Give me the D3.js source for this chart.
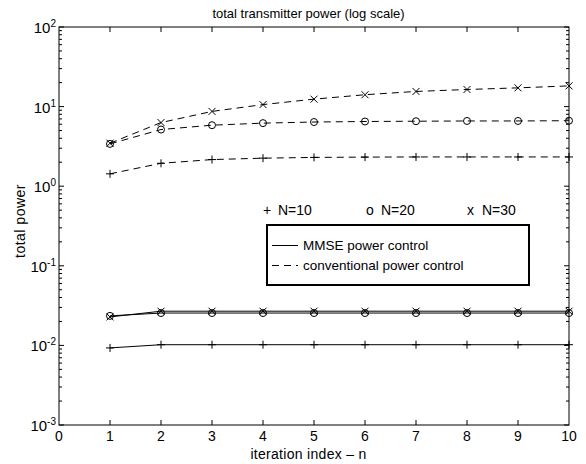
<!DOCTYPE html>
<html>
<head>
<meta charset="utf-8">
<script src="https://d3js.org/d3.v7.min.js"></script>
<style>
  body { margin: 0; background: #fff; }
  text { font-family: "Liberation Sans", Arial, sans-serif; fill: #000; }
</style>
</head>
<body>
<div id="chart"></div>
<script>
// iterations
const iterations = [1, 2, 3, 4, 5, 6, 7, 8, 9, 10];

// MMSE power control (solid)
const mmseN10 = [0.0093, 0.0102, 0.0102, 0.0102, 0.0102, 0.0102, 0.0102, 0.0102, 0.0102, 0.0102];
const mmseN20 = [0.0235, 0.0255, 0.0255, 0.0255, 0.0255, 0.0255, 0.0255, 0.0255, 0.0255, 0.0255];
const mmseN30 = [0.0228, 0.0269, 0.0269, 0.0269, 0.0269, 0.0269, 0.0269, 0.0269, 0.0269, 0.0269];

// conventional power control (dashed)
const convN10 = [1.43, 1.94, 2.16, 2.25, 2.3, 2.32, 2.33, 2.33, 2.33, 2.33];
const convN20 = [3.4, 5.15, 5.84, 6.2, 6.4, 6.5, 6.55, 6.6, 6.6, 6.65];
const convN30 = [3.47, 6.3, 8.7, 10.6, 12.4, 14.1, 15.5, 16.4, 17.2, 18.2];

const xTicks = [0, 1, 2, 3, 4, 5, 6, 7, 8, 9, 10];
const yDecades = [-3, -2, -1, 0, 1, 2];

const width = 586, height = 464;
const margin = { top: 27, right: 17, bottom: 39, left: 59 };
const plotW = width - margin.left - margin.right;
const plotH = height - margin.top - margin.bottom;

const svg = d3.select("#chart").append("svg")
  .attr("width", width)
  .attr("height", height);

const g = svg.append("g")
  .attr("transform", `translate(${margin.left},${margin.top})`);

const x = d3.scaleLinear().domain([0, 10]).range([0, plotW]);
const y = d3.scaleLog().domain([1e-3, 1e2]).range([plotH, 0]);

// minor ticks of log axis
const minorTicks = [];
yDecades.slice(0, -1).forEach(e => {
  for (let m = 2; m <= 9; m++) minorTicks.push(m * Math.pow(10, e));
});

// ticks, drawn inside on all four sides
const tickG = g.append("g").attr("stroke", "#000").attr("stroke-width", 1);
xTicks.slice(1, -1).forEach(t => {
  tickG.append("line").attr("x1", x(t)).attr("x2", x(t)).attr("y1", plotH).attr("y2", plotH - 5);
  tickG.append("line").attr("x1", x(t)).attr("x2", x(t)).attr("y1", 0).attr("y2", 5);
});
yDecades.forEach(e => {
  const v = Math.pow(10, e);
  tickG.append("line").attr("x1", 0).attr("x2", 5).attr("y1", y(v)).attr("y2", y(v));
  tickG.append("line").attr("x1", plotW).attr("x2", plotW - 5).attr("y1", y(v)).attr("y2", y(v));
});
minorTicks.forEach(v => {
  tickG.append("line").attr("x1", 0).attr("x2", 3).attr("y1", y(v)).attr("y2", y(v));
  tickG.append("line").attr("x1", plotW).attr("x2", plotW - 3).attr("y1", y(v)).attr("y2", y(v));
});

// frame
g.append("rect")
  .attr("x", 0).attr("y", 0).attr("width", plotW).attr("height", plotH)
  .attr("fill", "none").attr("stroke", "#000").attr("stroke-width", 1);

// x tick labels
g.selectAll(".xlab").data(xTicks).enter().append("text")
  .attr("x", d => x(d)).attr("y", plotH + 16)
  .attr("text-anchor", "middle").attr("font-size", "14px")
  .text(d => d);

// y tick labels as 10^e
yDecades.forEach(e => {
  const t = g.append("text")
    .attr("x", -3).attr("y", y(Math.pow(10, e)) + 6)
    .attr("text-anchor", "end").attr("font-size", "15px");
  t.append("tspan").text("10");
  t.append("tspan").attr("dy", -6).attr("font-size", "10px").text(e);
});

// lines
const line = d3.line()
  .x((d, i) => x(iterations[i]))
  .y(d => y(d));

const series = [
  { values: convN10, dash: "7,5", marker: "plus" },
  { values: convN20, dash: "7,5", marker: "circle" },
  { values: convN30, dash: "7,5", marker: "cross" },
  { values: mmseN10, dash: null, marker: "plus" },
  { values: mmseN20, dash: null, marker: "circle" },
  { values: mmseN30, dash: null, marker: "cross" }
];

series.forEach(s => {
  g.append("path")
    .datum(s.values)
    .attr("d", line)
    .attr("fill", "none")
    .attr("stroke", "#000")
    .attr("stroke-width", 1)
    .attr("stroke-dasharray", s.dash);

  const m = g.append("g").attr("stroke", "#000").attr("fill", "none").attr("stroke-width", 1);
  s.values.forEach((v, i) => {
    const cx = x(iterations[i]), cy = y(v);
    if (s.marker === "plus") {
      m.append("path").attr("d", `M${cx - 4},${cy}H${cx + 4}M${cx},${cy - 4}V${cy + 4}`);
    } else if (s.marker === "circle") {
      m.append("circle").attr("cx", cx).attr("cy", cy).attr("r", 3.5);
    } else {
      m.append("path").attr("d", `M${cx - 3.5},${cy - 3.5}L${cx + 3.5},${cy + 3.5}M${cx - 3.5},${cy + 3.5}L${cx + 3.5},${cy - 3.5}`);
    }
  });
});

// marker legend text
const markerLegend = [
  { sym: "+", label: "N=10", x: 204 },
  { sym: "o", label: "N=20", x: 307 },
  { sym: "x", label: "N=30", x: 408 }
];
markerLegend.forEach(d => {
  g.append("text").attr("x", d.x).attr("y", 188)
    .attr("font-size", "14px").text(d.sym);
  g.append("text").attr("x", d.x + 15).attr("y", 188)
    .attr("font-size", "14px").text(d.label);
});

// line style legend box
const lg = g.append("g").attr("transform", "translate(208,198)");
lg.append("rect")
  .attr("x", 0).attr("y", 0).attr("width", 262).attr("height", 60)
  .attr("fill", "#fff").attr("stroke", "#000").attr("stroke-width", 2);
const lineLegend = [
  { label: "MMSE power control", dash: null },
  { label: "conventional power control", dash: "7,5" }
];
lineLegend.forEach((d, i) => {
  const yy = 20.5 + i * 20;
  lg.append("line").attr("x1", 5).attr("x2", 31).attr("y1", yy).attr("y2", yy)
    .attr("stroke", "#000").attr("stroke-width", 1).attr("stroke-dasharray", d.dash);
  lg.append("text").attr("x", 36).attr("y", yy + 4.5).attr("font-size", "13.5px").text(d.label);
});

// title and axis labels
svg.append("text").attr("x", 308.5).attr("y", 17.5)
  .attr("text-anchor", "middle").attr("font-size", "13px")
  .text("total transmitter power (log scale)");

svg.append("text").attr("x", 308.5).attr("y", 459)
  .attr("text-anchor", "middle").attr("font-size", "14px")
  .attr("letter-spacing", "0.3px")
  .text("iteration index \u2013 n");

svg.append("text")
  .attr("transform", "translate(25,221) rotate(-90)")
  .attr("text-anchor", "middle").attr("font-size", "14px")
  .attr("letter-spacing", "0.5px")
  .text("total power");
</script>
</body>
</html>
